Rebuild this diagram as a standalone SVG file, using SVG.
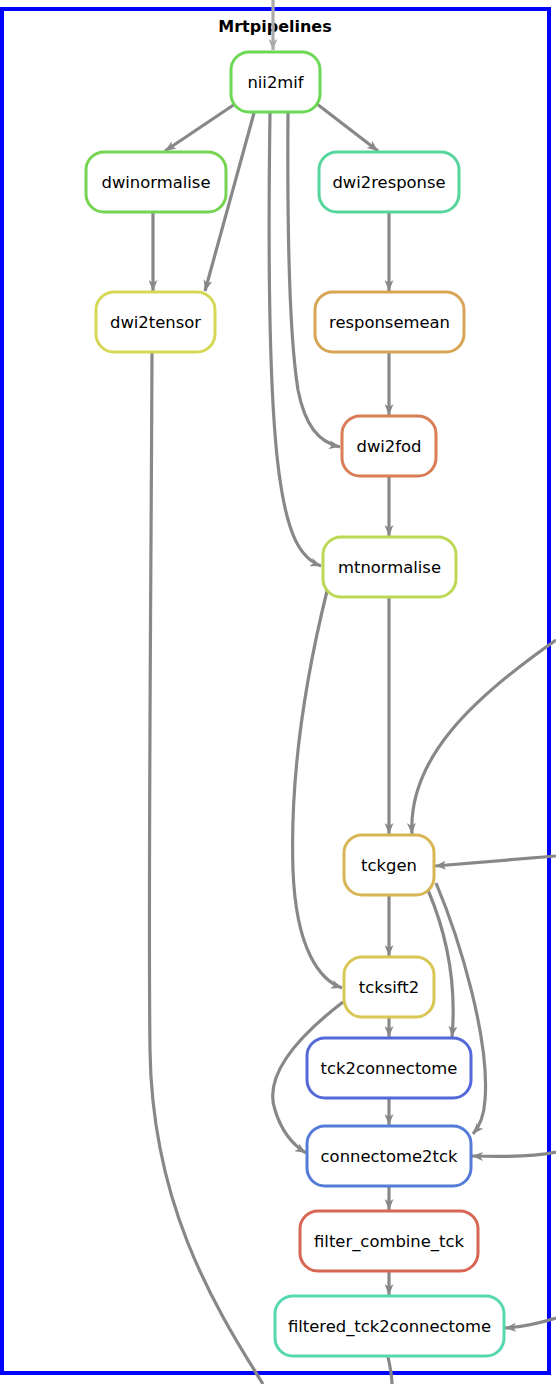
<svg xmlns="http://www.w3.org/2000/svg" width="556" height="1384" viewBox="0 0 556 1384">
<style>
.node rect{fill:#ffffff;stroke-width:3}
.node text{font-family:"DejaVu Sans",sans-serif;font-size:16.4px;fill:#000;text-anchor:middle}
.edge{fill:none;stroke:#888888;stroke-width:3.2;marker-end:url(#arr)}
.edge.light{stroke:#aaaaaa;marker-end:url(#arrl)}
.title{font-family:"DejaVu Sans",sans-serif;font-size:16px;font-weight:bold;text-anchor:middle}
</style>
<defs>
<marker id="arr" markerUnits="userSpaceOnUse" markerWidth="12" markerHeight="9" refX="11" refY="4.5" orient="auto">
<path d="M0,0 L11,4.5 L0,9 L3,4.5 z" fill="#888888"/>
</marker>
<marker id="arrl" markerUnits="userSpaceOnUse" markerWidth="12" markerHeight="9" refX="11" refY="4.5" orient="auto">
<path d="M0,0 L11,4.5 L0,9 L3,4.5 z" fill="#aaaaaa"/>
</marker>
</defs>
<rect width="556" height="1384" fill="#ffffff"/>
<g id="cluster">
<rect x="2" y="9" width="547" height="1364" fill="none" stroke="#0000ff" stroke-width="4"/>
<text class="title" x="275" y="32">Mrtpipelines</text>
</g>
<g id="edges">
<path class="edge light" d="M273,0 L273,50"/>
<path class="edge" d="M235,104 L165,151"/>
<path class="edge" d="M254,113 L205,291"/>
<path class="edge" d="M317,104 L378,151"/>
<path class="edge" d="M270,113 C268,250 268,400 280,480 C288,535 300,558 321,566"/>
<path class="edge" d="M288,113 C287,250 290,340 298,390 C305,425 318,442 340,447"/>
<path class="edge" d="M153,212 L153,291"/>
<path class="edge" d="M389,212 L389,291"/>
<path class="edge" d="M389,352 L389,415"/>
<path class="edge" d="M389,476 L389,536"/>
<path class="edge" d="M389,597 L389,834"/>
<path class="edge" d="M327,591 C305,680 290,780 293,870 C296,950 320,980 342,988"/>
<path class="edge" d="M556,640 C470,700 408,760 412,834"/>
<path class="edge" d="M556,856 L435,866"/>
<path class="edge" d="M389,896 L389,956"/>
<path class="edge" d="M428,890 C445,930 457,980 452,1037"/>
<path class="edge" d="M436,883 C460,940 490,1040 485,1100 C484,1117 479,1127 473,1134"/>
<path class="edge" d="M389,1017 L389,1037"/>
<path class="edge" d="M343,1002 C300,1035 263,1075 275,1110 C282,1133 293,1145 306,1153"/>
<path class="edge" d="M389,1098 L389,1125"/>
<path class="edge" d="M556,1152 C530,1157 500,1157 472,1156"/>
<path class="edge" d="M389,1187 L389,1210"/>
<path class="edge" d="M389,1272 L389,1295"/>
<path class="edge" d="M556,1318 C540,1323 522,1327 505,1328"/>
<path class="edge" style="marker-end:none" d="M388,1357 C390,1366 392,1376 392,1384"/>
<path class="edge" style="marker-end:none" d="M152,352 C151,600 148,900 150,1050 C152,1200 210,1300 263,1384"/>
</g>
<g id="nii2mif" class="node"><rect x="231" y="52" width="89" height="60" rx="18" stroke="#6cd853"/><text x="275.5" y="87.5">nii2mif</text></g>
<g id="dwinormalise" class="node"><rect x="86" y="152" width="140" height="60" rx="18" stroke="#75d452"/><text x="156" y="187.5">dwinormalise</text></g>
<g id="dwi2response" class="node"><rect x="319" y="152" width="140" height="60" rx="18" stroke="#56d69c"/><text x="389" y="187.5">dwi2response</text></g>
<g id="dwi2tensor" class="node"><rect x="96" y="292" width="119" height="60" rx="18" stroke="#d6d855"/><text x="155.5" y="327.5">dwi2tensor</text></g>
<g id="responsemean" class="node"><rect x="315" y="292" width="149" height="60" rx="18" stroke="#d8a555"/><text x="389.5" y="327.5">responsemean</text></g>
<g id="dwi2fod" class="node"><rect x="342" y="416" width="94" height="60" rx="18" stroke="#d87d55"/><text x="389" y="451.5">dwi2fod</text></g>
<g id="mtnormalise" class="node"><rect x="323" y="537" width="133" height="60" rx="18" stroke="#bdd855"/><text x="389.5" y="572.5">mtnormalise</text></g>
<g id="tckgen" class="node"><rect x="344" y="835" width="90" height="60" rx="18" stroke="#d8b655"/><text x="389" y="870.5">tckgen</text></g>
<g id="tcksift2" class="node"><rect x="344" y="957" width="90" height="60" rx="18" stroke="#d8c655"/><text x="389" y="992.5">tcksift2</text></g>
<g id="tck2connectome" class="node"><rect x="307" y="1038" width="164" height="60" rx="18" stroke="#5568d8"/><text x="389" y="1073.5">tck2connectome</text></g>
<g id="connectome2tck" class="node"><rect x="307" y="1126" width="164" height="60" rx="18" stroke="#557bd8"/><text x="389" y="1161.5">connectome2tck</text></g>
<g id="filter_combine_tck" class="node"><rect x="300" y="1211" width="178" height="60" rx="18" stroke="#d86655"/><text x="389" y="1246.5">filter_combine_tck</text></g>
<g id="filtered_tck2connectome" class="node"><rect x="275" y="1296" width="229" height="60" rx="18" stroke="#55d8b0"/><text x="389.5" y="1331.5">filtered_tck2connectome</text></g>
</svg>
